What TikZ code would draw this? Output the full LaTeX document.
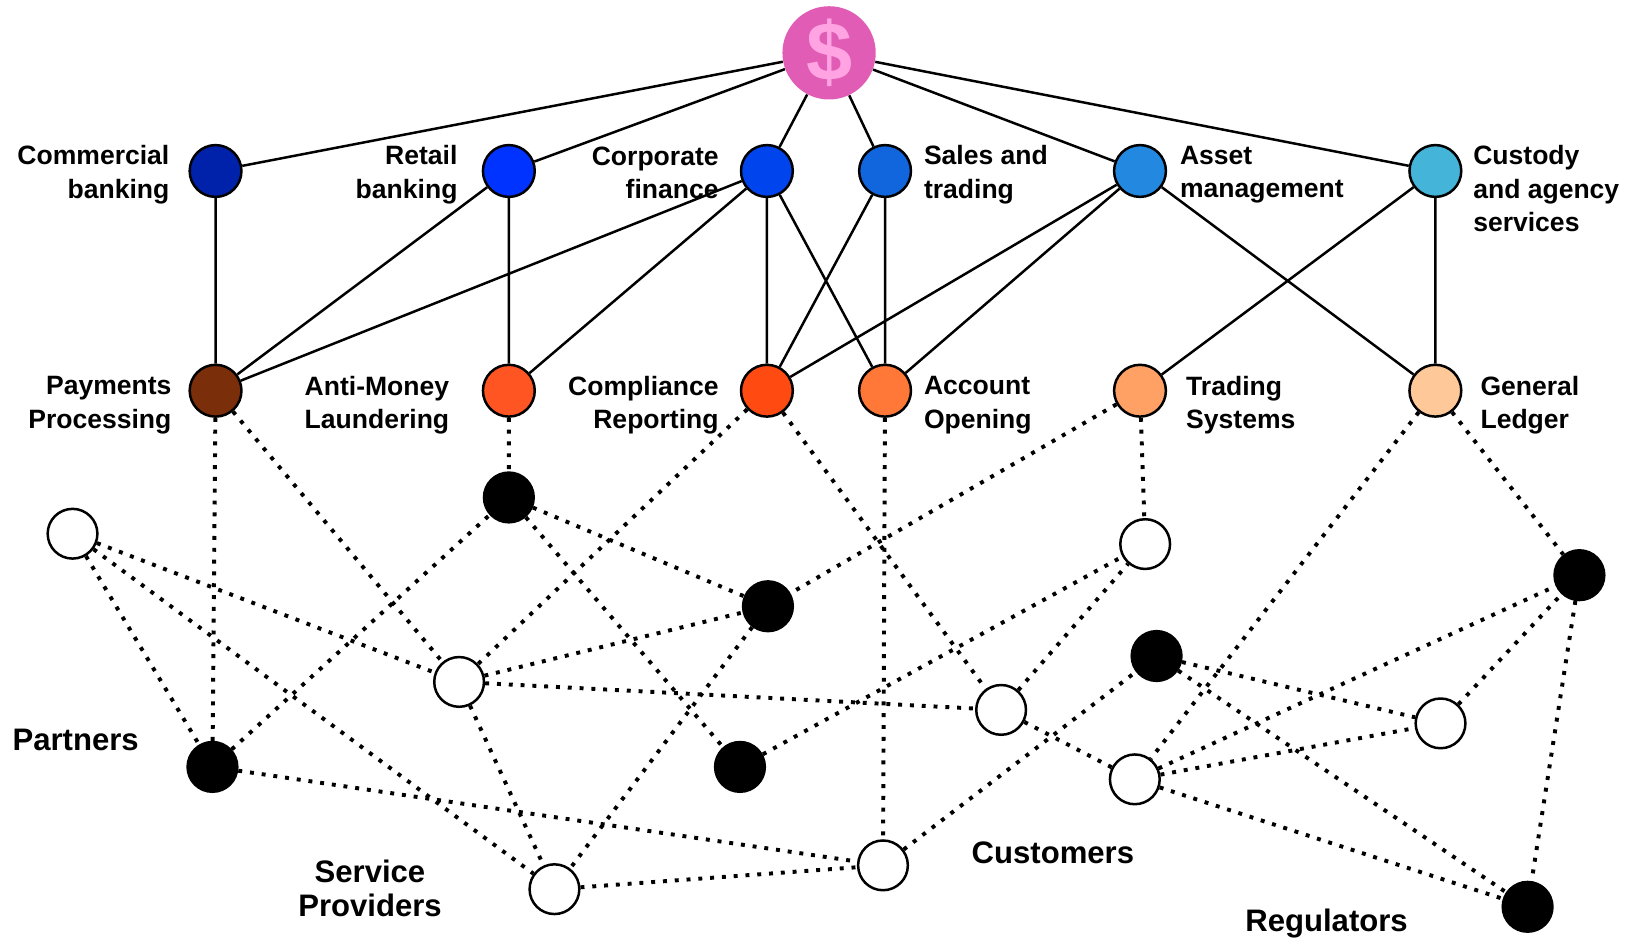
\documentclass[tikz,border=0pt]{standalone}
\usepackage{fontspec}
\setmainfont{Liberation Sans}
\usetikzlibrary{positioning}

\definecolor{moneypink}{HTML}{E05CB5}
\definecolor{moneylight}{HTML}{FFA3E2}
\definecolor{cbblue}{HTML}{0022AA}
\definecolor{rbblue}{HTML}{0033FF}
\definecolor{cfblue}{HTML}{0044EE}
\definecolor{stblue}{HTML}{1166DD}
\definecolor{amblue}{HTML}{2288E0}
\definecolor{cublue}{HTML}{44B4D8}
\definecolor{ppbrown}{HTML}{7A2E0A}
\definecolor{amlred}{HTML}{FF5522}
\definecolor{crred}{HTML}{FF4A12}
\definecolor{aoorange}{HTML}{FF7838}
\definecolor{tsorange}{HTML}{FFA064}
\definecolor{glpeach}{HTML}{FFC898}

\tikzset{
  bizdot/.style={circle, draw=black, line width=1.2pt, minimum size=25pt, inner sep=0pt},
  stake/.style={circle, draw=black, line width=1.2pt, minimum size=24pt, inner sep=0pt},
  lbl/.style={inner sep=0pt, font=\bfseries\fontsize{12.8}{16}\selectfont},
  toplbl/.style={lbl, yshift=-1.75pt},
  lowlbl/.style={lbl, yshift=-7pt},
  biglbl/.style={inner sep=0pt, align=center, font=\bfseries\fontsize{15}{16.5}\selectfont},
  solidlink/.style={line width=1.2pt},
  dotlink/.style={line width=1.9pt, dash pattern=on 1.9pt off 3.8pt}
}

\begin{document}
\begin{tikzpicture}[x=0.5pt, y=-0.5pt]
    \useasboundingbox (0,0) rectangle (1568,908);

    \node[circle, fill=moneypink, minimum size=45pt, inner sep=0pt] (dollar) at (800,51)
        {\fontsize{40}{40}\selectfont\bfseries\textcolor{moneylight}{\$}};

    \node[bizdot, fill=cbblue] (cb) at (208,165) {};
    \node[bizdot, fill=rbblue] (rb) at (491,165) {};
    \node[bizdot, fill=cfblue] (cf) at (740,165) {};
    \node[bizdot, fill=stblue] (st) at (854,165) {};
    \node[bizdot, fill=amblue] (am) at (1100,165) {};
    \node[bizdot, fill=cublue] (cu) at (1385,165) {};

    \node[bizdot, fill=ppbrown] (pp) at (208,377) {};
    \node[bizdot, fill=amlred] (aml) at (491,377) {};
    \node[bizdot, fill=crred] (cr) at (740,377) {};
    \node[bizdot, fill=aoorange] (ao) at (854,377) {};
    \node[bizdot, fill=tsorange] (ts) at (1100,377) {};
    \node[bizdot, fill=glpeach] (gl) at (1385,377) {};

    \node[toplbl, align=right, left=9pt of cb] (cblbl) {Commercial\\banking};
    \node[toplbl, align=right, left=11.5pt of rb] (rblbl) {Retail\\banking};
    \node[toplbl, align=right, left=10pt of cf, yshift=1pt] (cflbl) {Corporate\\finance};
    \node[toplbl, align=left, right=5.5pt of st] (stlbl) {Sales and\\trading};
    \node[toplbl, align=left, right=6pt of am] (amlbl) {Asset\\management};
    \node[lbl, align=left, right=5pt of cu, yshift=-8.5pt] (culbl) {Custody\\and agency\\services};

    \node[lowlbl, align=right, left=8pt of pp] (pplbl) {Payments\\Processing};
    \node[lowlbl, align=right, left=15.5pt of aml] (amllbl) {Anti-Money\\Laundering};
    \node[lowlbl, align=right, left=10pt of cr] (crlbl) {Compliance\\Reporting};
    \node[lowlbl, align=left, right=5.5pt of ao] (aolbl) {Account\\Opening};
    \node[lowlbl, align=left, right=9pt of ts] (tslbl) {Trading\\Systems};
    \node[lowlbl, align=left, right=8.5pt of gl] (gllbl) {General\\Ledger};

    \node[stake, fill=white] (w1) at (70,515) {};
    \node[stake, fill=white] (w2) at (443,658) {};
    \node[stake, fill=white] (w3) at (535,858) {};
    \node[stake, fill=white] (w4) at (852,835) {};
    \node[stake, fill=white] (w5) at (966,685) {};
    \node[stake, fill=white] (w6) at (1105,525) {};
    \node[stake, fill=white] (w7) at (1095,752) {};
    \node[stake, fill=white] (w8) at (1390,698) {};
    \node[stake, fill=black] (b1) at (491,480) {};
    \node[stake, fill=black] (b2) at (741,585) {};
    \node[stake, fill=black] (b3) at (205,740) {};
    \node[stake, fill=black] (b4) at (714,740) {};
    \node[stake, fill=black] (b5) at (1116,633) {};
    \node[stake, fill=black] (b6) at (1524,555) {};
    \node[stake, fill=black] (b7) at (1474,875) {};

    \node[biglbl] (partners) at (73,714) {Partners};
    \node[biglbl] (providers) at (357,857) {Service\\Providers};
    \node[biglbl] (customers) at (1016,823) {Customers};
    \node[biglbl] (regulators) at (1280,891) {Regulators};

    \draw[solidlink] (dollar) -- (cb) (dollar) -- (rb) (dollar) -- (cf)
        (dollar) -- (st) (dollar) -- (am) (dollar) -- (cu);
    \draw[solidlink] (cb) -- (pp) (rb) -- (pp) (cf) -- (pp) (cf) -- (aml)
        (rb) -- (aml) (cf) -- (cr) (cf) -- (ao) (st) -- (cr) (st) -- (ao)
        (am) -- (cr) (am) -- (ao) (am) -- (gl) (cu) -- (ts) (cu) -- (gl);

    \draw[dotlink] (pp) -- (b3) (pp) -- (w2) (aml) -- (b1) (cr) -- (w2) (cr) -- (w5)
        (ao) -- (w4) (ts) -- (w6) (ts) -- (b2) (gl) -- (w7) (gl) -- (b6);
    \draw[dotlink] (w1) -- (b3) (w1) -- (w2) (w1) -- (w3) (b3) -- (b1) (b3) -- (w4)
        (b1) -- (b2) (b1) -- (b4) (w2) -- (b2) (w2) -- (w5) (w2) -- (w3)
        (b2) -- (w3) (b4) -- (w6) (w5) -- (w6) (w5) -- (w7) (w3) -- (w4)
        (w4) -- (b5) (b5) -- (w8) (b5) -- (b7) (w7) -- (b7) (w7) -- (b6)
        (w7) -- (w8) (w8) -- (b6) (b6) -- (b7);
\end{tikzpicture}
\end{document}
